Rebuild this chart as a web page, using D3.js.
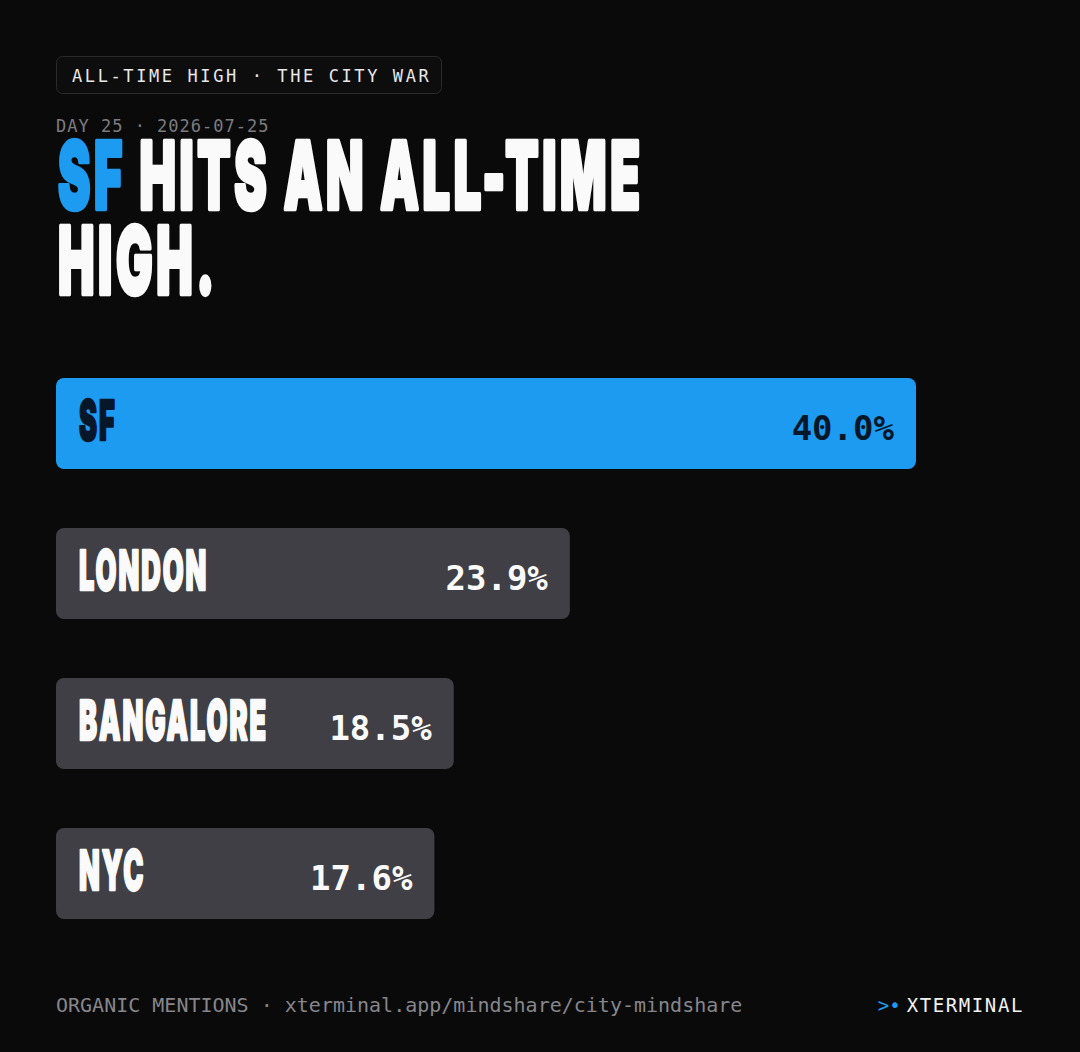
<!DOCTYPE html>
<html>
<head>
<meta charset="utf-8">
<script src="https://cdn.jsdelivr.net/npm/d3@7"></script>
<style>
  html, body { margin: 0; padding: 0; background: #0a0a0a; }
  svg { display: block; }
</style>
</head>
<body>
<svg id="chart" width="1080" height="1052"></svg>
<script>
// City mindshare, share of organic mentions (%)
const cities = ["SF", "LONDON", "BANGALORE", "NYC"];
const shares = [40.0, 23.9, 18.5, 17.6];
const leader = "SF";

const badgeText = "ALL-TIME HIGH \u00B7 THE CITY WAR";
const dateText = "DAY 25 \u00B7 2026-07-25";
const titleLine1 = ["SF", " HITS AN ALL-TIME"];
const titleLine2 = "HIGH.";
const footerText = "ORGANIC MENTIONS \u00B7 xterminal.app/mindshare/city-mindshare";
const brandText = "XTERMINAL";

const W = 1080, H = 1052;
const BLUE = "#1d9bf0", GREY_BAR = "#3f3f45", BG = "#0a0a0a";
const DISPLAY = "Inter, 'DejaVu Sans', sans-serif";
const MONO = "'DejaVu Sans Mono', 'Liberation Mono', monospace";

const svg = d3.select("#chart");
svg.append("rect").attr("width", W).attr("height", H).attr("fill", BG);

// badge
const badge = svg.append("g");
badge.append("rect")
  .attr("x", 56.5).attr("y", 56.5).attr("width", 385).attr("height", 37)
  .attr("rx", 6).attr("fill", "#0d0d0d").attr("stroke", "#2a2a2c");
badge.append("text")
  .attr("x", 72).attr("y", 82)
  .attr("font-family", MONO).attr("font-size", 17)
  .attr("letter-spacing", 2.6).attr("fill", "#e8e8e8")
  .text(badgeText);

svg.append("text")
  .attr("x", 56).attr("y", 132)
  .attr("font-family", MONO).attr("font-size", 17)
  .attr("letter-spacing", 1).attr("fill", "#7c7c80")
  .text(dateText);

// condensed display face: a heavy sans squeezed horizontally
function condensed(sel, x, y, size, sx, spacing) {
  return sel.append("text")
    .attr("transform", `translate(${x},${y}) scale(${sx},1)`)
    .attr("font-family", DISPLAY).attr("font-weight", 900)
    .attr("font-size", size)
    .attr("letter-spacing", spacing)
    .attr("stroke-linejoin", "round")
    .attr("paint-order", "stroke");
}
function squeezeFor(text, size, spacing, width) {
  const p = condensed(svg, 0, -300, size, 1, spacing).text(text);
  const w = p.node().getComputedTextLength() - spacing;
  p.remove();
  return width / w;
}

const titleSize = 93, titleSpacing = 7;
const SX = squeezeFor(titleLine1.join(""), titleSize, titleSpacing, 582);

const t1 = condensed(svg, 58, 209, titleSize, SX, titleSpacing)
  .attr("stroke-width", 4.5);
t1.append("tspan").attr("fill", BLUE).attr("stroke", BLUE).text(titleLine1[0]);
t1.append("tspan").attr("fill", "#fafafa").attr("stroke", "#fafafa").text(titleLine1[1]);
condensed(svg, 58, 294, titleSize, SX, titleSpacing)
  .attr("stroke-width", 4.5)
  .attr("fill", "#fafafa").attr("stroke", "#fafafa")
  .text(titleLine2);

// bars
const x = d3.scaleLinear().domain([0, 40]).range([56, 916]);
const y = d3.scaleBand().domain(cities).range([378, 919])
  .paddingInner(59 / 150).paddingOuter(0).align(0);

const data = cities.map((c, i) => ({ city: c, share: shares[i] }));
const rows = svg.append("g").selectAll("g").data(data).join("g");

rows.append("rect")
  .attr("x", x(0)).attr("y", d => y(d.city))
  .attr("width", d => x(d.share) - x(0))
  .attr("height", y.bandwidth())
  .attr("rx", 8)
  .attr("fill", d => d.city === leader ? BLUE : GREY_BAR);

const labelSize = 55, labelSpacing = 4;
const LSX = squeezeFor("BANGALORE", labelSize, labelSpacing, 187);

rows.each(function (d) {
  const g = d3.select(this);
  const ink = d.city === leader ? "#07172a" : "#fafafa";
  condensed(g, 79, y(d.city) + 62, labelSize, LSX, labelSpacing)
    .attr("stroke-width", 2.5)
    .attr("fill", ink).attr("stroke", ink)
    .text(d.city);
  g.append("text")
    .attr("x", x(d.share) - 22).attr("y", y(d.city) + 62)
    .attr("text-anchor", "end")
    .attr("font-family", MONO).attr("font-weight", 700)
    .attr("font-size", 34).attr("fill", ink)
    .text(d3.format(".1f")(d.share) + "%");
});

// footer
svg.append("text")
  .attr("x", 56).attr("y", 1012)
  .attr("font-family", MONO).attr("font-size", 20)
  .attr("fill", "#86868a")
  .text(footerText);

const brand = svg.append("text")
  .attr("x", 1024).attr("y", 1012)
  .attr("text-anchor", "end")
  .attr("font-family", MONO).attr("font-size", 19);
brand.append("tspan").attr("fill", BLUE).text(">\u2022");
brand.append("tspan").attr("dx", 6).attr("fill", "#f2f2f2").attr("letter-spacing", 1.6).text(brandText);
</script>
</body>
</html>
